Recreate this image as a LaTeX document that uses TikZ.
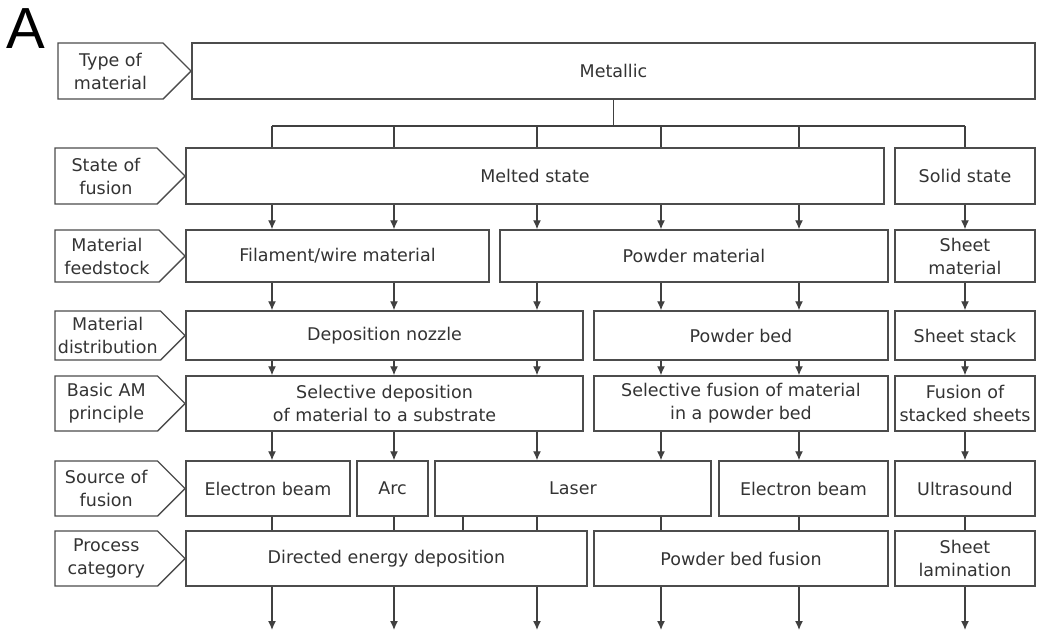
\documentclass[tikz,border=0pt]{standalone}
\usepackage{fontspec}
\setmainfont{DejaVu Sans}
\newfontfamily\panelfont{Liberation Sans}
\usepackage{tikz}
\usetikzlibrary{arrows.meta,shapes.symbols}

\begin{document}
\begin{tikzpicture}[x=1pt, y=-1pt]
    \tikzstyle{box} = [rectangle, draw=black!70, line width=1.4pt, text=black!80, align=center, inner sep=0pt, font=\fontsize{17.5}{23}\selectfont]
    \tikzstyle{tag} = [signal, signal to=east, signal pointer angle=90, draw=black!70, line width=1.4pt, text=black!80, align=center, inner sep=0pt, minimum width=130pt, font=\fontsize{17.5}{23}\selectfont]
    \tikzstyle{arrow} = [line width=1.3pt, draw=black!75, -{Latex[length=9pt,width=8pt]}]
    \tikzstyle{link} = [line width=1.3pt, draw=black!75]

    \useasboundingbox (0,0) rectangle (1045,635);

    % panel letter
    \node [font=\panelfont\fontsize{58}{58}\selectfont, anchor=base west, inner sep=0pt] (panel) at (6,48) {A};

    % row labels
    \node [tag, minimum width=133pt, minimum height=56pt, anchor=east] (ltype) at (192,71) {Type of\\material};
    \node [tag, minimum height=56pt, anchor=east] (lstate) at (186,176) {State of\\fusion};
    \node [tag, minimum height=52pt, anchor=east] (lfeed) at (186,256) {Material\\feedstock};
    \node [tag, minimum height=49pt, anchor=east] (ldist) at (186,335.5) {Material\\distribution};
    \node [tag, minimum height=55pt, anchor=east] (lprin) at (186,403.5) {Basic AM\\principle};
    \node [tag, minimum height=55pt, anchor=east] (lsrc) at (186,488.5) {Source of\\fusion};
    \node [tag, minimum height=55pt, anchor=east] (lcat) at (186,558.5) {Process\\category};

    % boxes
    \node [box, minimum width=843pt, minimum height=56pt] (metal) at (613.5,71) {Metallic};
    \node [box, minimum width=698pt, minimum height=56pt] (melt) at (535,176) {Melted state};
    \node [box, minimum width=140pt, minimum height=56pt] (solid) at (965,176) {Solid state};
    \node [box, minimum width=303pt, minimum height=52pt] (fil) at (337.5,256) {Filament/wire material};
    \node [box, minimum width=388pt, minimum height=52pt] (pmat) at (694,256) {Powder material};
    \node [box, minimum width=140pt, minimum height=52pt] (smat) at (965,256) {Sheet\\material};
    \node [box, minimum width=397pt, minimum height=49pt] (nozzle) at (384.5,335.5) {Deposition nozzle};
    \node [box, minimum width=294pt, minimum height=49pt] (pbed) at (741,335.5) {Powder bed};
    \node [box, minimum width=140pt, minimum height=49pt] (sstack) at (965,335.5) {Sheet stack};
    \node [box, minimum width=397pt, minimum height=55pt] (seldep) at (384.5,403.5) {Selective deposition\\of material to a substrate};
    \node [box, minimum width=294pt, minimum height=55pt] (selfus) at (741,403.5) {Selective fusion of material\\in a powder bed};
    \node [box, minimum width=140pt, minimum height=55pt] (fussht) at (965,403.5) {Fusion of\\stacked sheets};
    \node [box, minimum width=164pt, minimum height=55pt] (ebded) at (268,488.5) {Electron beam};
    \node [box, minimum width=71pt, minimum height=55pt] (arc) at (392.5,488.5) {Arc};
    \node [box, minimum width=276pt, minimum height=55pt] (laser) at (573,488.5) {Laser};
    \node [box, minimum width=169pt, minimum height=55pt] (ebpbf) at (803.5,488.5) {Electron beam};
    \node [box, minimum width=140pt, minimum height=55pt] (usound) at (965,488.5) {Ultrasound};
    \node [box, minimum width=401pt, minimum height=55pt] (ded) at (386.5,558.5) {Directed energy deposition};
    \node [box, minimum width=294pt, minimum height=55pt] (pbf) at (741,558.5) {Powder bed fusion};
    \node [box, minimum width=140pt, minimum height=55pt] (slam) at (965,558.5) {Sheet\\lamination};

    % columns
    \coordinate (c1) at (272,0);
    \coordinate (c2) at (394,0);
    \coordinate (c3) at (537,0);
    \coordinate (c4) at (661,0);
    \coordinate (c5) at (799,0);
    \coordinate (c6) at (965,0);
    \coordinate (c7) at (463,0);
    \coordinate (bus) at (0,126);
    \coordinate (out) at (0,630);

    % metallic to state of fusion
    \draw [link] (metal.south) -- (metal.south |- bus);
    \draw [link] (bus -| c1) -- (bus -| c6);
    \draw [link] (bus -| c1) -- (melt.north -| c1);
    \draw [link] (bus -| c2) -- (melt.north -| c2);
    \draw [link] (bus -| c3) -- (melt.north -| c3);
    \draw [link] (bus -| c4) -- (melt.north -| c4);
    \draw [link] (bus -| c5) -- (melt.north -| c5);
    \draw [link] (bus -| c6) -- (solid.north);

    % state of fusion to feedstock
    \draw [arrow] (melt.south -| c1) -- (fil.north -| c1);
    \draw [arrow] (melt.south -| c2) -- (fil.north -| c2);
    \draw [arrow] (melt.south -| c3) -- (pmat.north -| c3);
    \draw [arrow] (melt.south -| c4) -- (pmat.north -| c4);
    \draw [arrow] (melt.south -| c5) -- (pmat.north -| c5);
    \draw [arrow] (solid) -- (smat);

    % feedstock to distribution
    \draw [arrow] (fil.south -| c1) -- (nozzle.north -| c1);
    \draw [arrow] (fil.south -| c2) -- (nozzle.north -| c2);
    \draw [arrow] (pmat.south -| c3) -- (nozzle.north -| c3);
    \draw [arrow] (pmat.south -| c4) -- (pbed.north -| c4);
    \draw [arrow] (pmat.south -| c5) -- (pbed.north -| c5);
    \draw [arrow] (smat) -- (sstack);

    % distribution to principle
    \draw [arrow] (nozzle.south -| c1) -- (seldep.north -| c1);
    \draw [arrow] (nozzle.south -| c2) -- (seldep.north -| c2);
    \draw [arrow] (nozzle.south -| c3) -- (seldep.north -| c3);
    \draw [arrow] (pbed.south -| c4) -- (selfus.north -| c4);
    \draw [arrow] (pbed.south -| c5) -- (selfus.north -| c5);
    \draw [arrow] (sstack) -- (fussht);

    % principle to source
    \draw [arrow] (seldep.south -| c1) -- (ebded.north -| c1);
    \draw [arrow] (seldep.south -| c2) -- (arc.north -| c2);
    \draw [arrow] (seldep.south -| c3) -- (laser.north -| c3);
    \draw [arrow] (selfus.south -| c4) -- (laser.north -| c4);
    \draw [arrow] (selfus.south -| c5) -- (ebpbf.north -| c5);
    \draw [arrow] (fussht) -- (usound);

    % source to category
    \draw [link] (ebded.south -| c1) -- (ded.north -| c1);
    \draw [link] (arc.south -| c2) -- (ded.north -| c2);
    \draw [link] (laser.south -| c7) -- (ded.north -| c7);
    \draw [link] (laser.south -| c3) -- (ded.north -| c3);
    \draw [link] (laser.south -| c4) -- (pbf.north -| c4);
    \draw [link] (ebpbf.south -| c5) -- (pbf.north -| c5);
    \draw [link] (usound) -- (slam);

    % outputs
    \draw [arrow] (ded.south -| c1) -- (out -| c1);
    \draw [arrow] (ded.south -| c2) -- (out -| c2);
    \draw [arrow] (ded.south -| c3) -- (out -| c3);
    \draw [arrow] (pbf.south -| c4) -- (out -| c4);
    \draw [arrow] (pbf.south -| c5) -- (out -| c5);
    \draw [arrow] (slam.south) -- (out -| c6);
\end{tikzpicture}
\end{document}
